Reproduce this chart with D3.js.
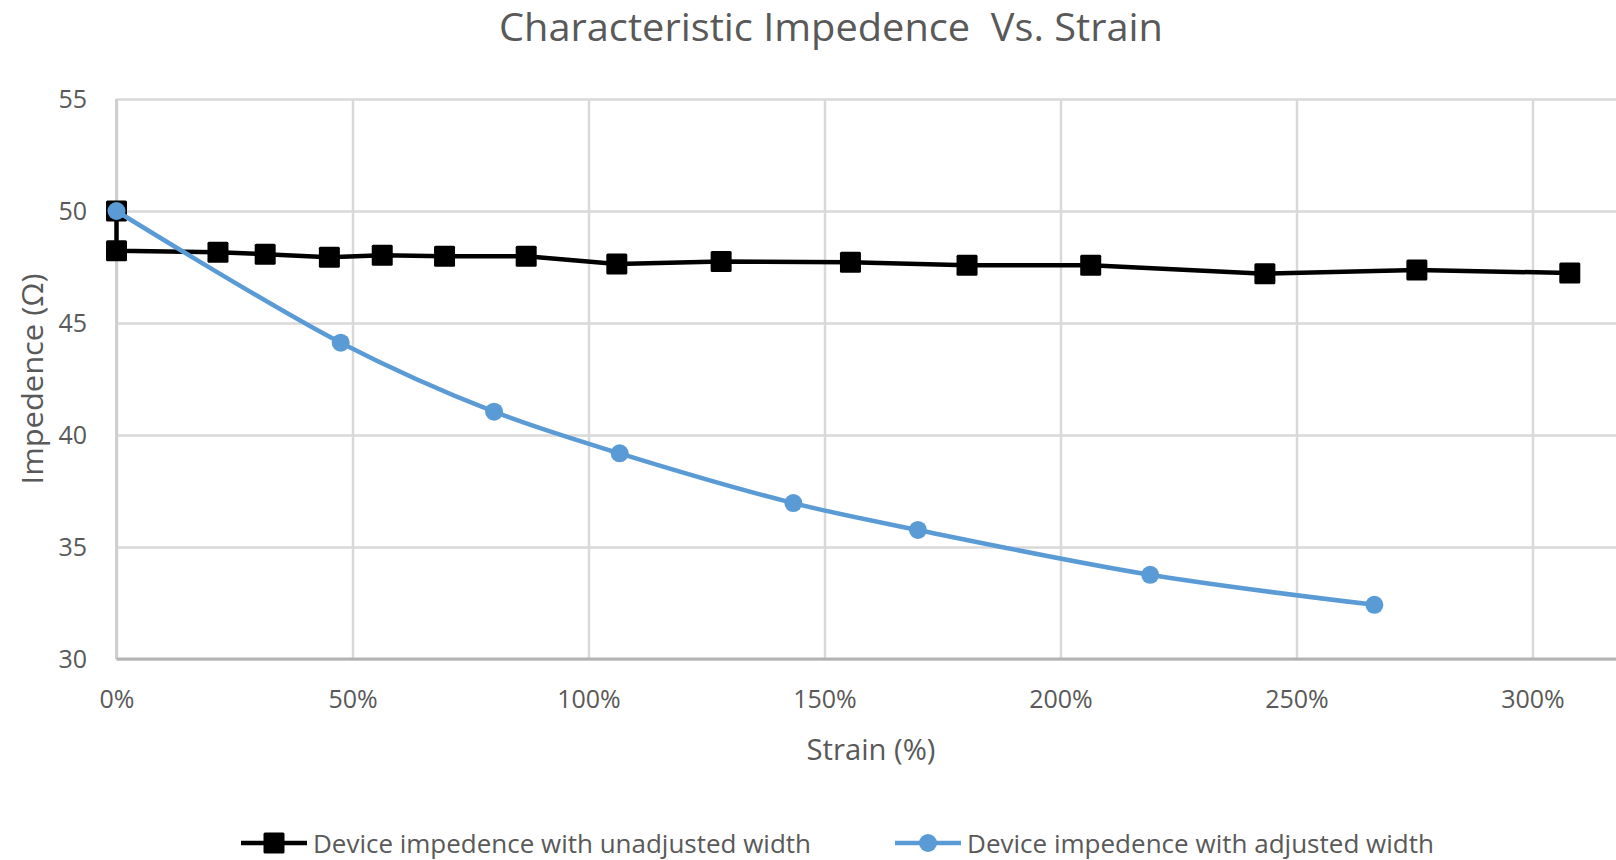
<!DOCTYPE html>
<html>

<head>
    <title>Characteristic Impedence Vs. Strain</title>
    <meta charset="UTF-8">
    <script src="https://d3js.org/d3.v7.min.js"></script>
    <style type="text/css">
        body { margin: 0; background: #fff; }
        text { font-family: "Open Sans", sans-serif; fill: #595959; }
    </style>
</head>

<body>
    <script type="text/javascript">
        // Data (strain as a fraction, impedence in ohms)
        var unadjustedStrain = [0, 0, 0.215, 0.315, 0.451, 0.563, 0.695, 0.868, 1.060, 1.281, 1.555, 1.802, 2.064, 2.433, 2.755, 3.079];
        var unadjustedImp = [50.0, 48.23, 48.16, 48.07, 47.93, 48.02, 47.98, 47.98, 47.63, 47.74, 47.71, 47.58, 47.58, 47.20, 47.37, 47.23];

        var adjustedStrain = [0, 0.475, 0.800, 1.066, 1.434, 1.698, 2.190, 2.665];
        var adjustedImp = [50.0, 44.12, 41.04, 39.18, 36.96, 35.76, 33.76, 32.42];

        var xTicks = [0, 0.5, 1, 1.5, 2, 2.5, 3];
        var yTicks = [30, 35, 40, 45, 50, 55];
        var seriesNames = ["Device impedence with unadjusted width", "Device impedence with adjusted width"];

        var W = 1616, H = 860;
        var plotLeft = 116.5, plotRight = 1616, plotTop = 99, plotBottom = 659;

        var svg = d3.select("body").append("svg")
            .attr("width", W)
            .attr("height", H);

        // Scales: the axis runs off the right edge in the reference
        var x = d3.scaleLinear().domain([0, (plotRight - plotLeft) / 472]).range([plotLeft, plotRight]);
        var y = d3.scaleLinear().domain([30, 55]).range([plotBottom, plotTop]);

        // Gridlines + tick labels
        var yAxis = d3.axisLeft(y).tickValues(yTicks).tickSize(-(plotRight - plotLeft)).tickPadding(29.5);
        var gy = svg.append("g").attr("transform", "translate(" + plotLeft + ",0)").call(yAxis);
        gy.select(".domain").remove();
        gy.selectAll("line").attr("stroke", "#d9d9d9").attr("stroke-width", 2.5);
        gy.selectAll("text").style("font-size", "25px").attr("fill", "#595959");

        var xAxis = d3.axisBottom(x).tickValues(xTicks).tickSize(-(plotBottom - plotTop)).tickPadding(31.5)
            .tickFormat(d3.format(".0%"));
        var gx = svg.append("g").attr("transform", "translate(0," + plotBottom + ")").call(xAxis);
        gx.select(".domain").remove();
        gx.selectAll("line").attr("stroke", "#d9d9d9").attr("stroke-width", 2.5);
        gx.selectAll("text").style("font-size", "25px").attr("fill", "#595959");

        // Axis lines
        svg.append("line")
            .attr("x1", x(0)).attr("x2", x(0)).attr("y1", y(55)).attr("y2", y(30))
            .attr("stroke", "#cfcfcf").attr("stroke-width", 3);
        svg.append("line")
            .attr("x1", x(0)).attr("x2", plotRight).attr("y1", y(30)).attr("y2", y(30))
            .attr("stroke", "#b3b3b3").attr("stroke-width", 3);

        // Series
        var unadjusted = unadjustedStrain.map(function (d, i) { return [d, unadjustedImp[i]]; });
        var adjusted = adjustedStrain.map(function (d, i) { return [d, adjustedImp[i]]; });

        var straight = d3.line()
            .x(function (d) { return x(d[0]); })
            .y(function (d) { return y(d[1]); });
        var smooth = d3.line()
            .x(function (d) { return x(d[0]); })
            .y(function (d) { return y(d[1]); })
            .curve(d3.curveCatmullRom.alpha(0.5));

        svg.append("path")
            .datum(unadjusted)
            .attr("fill", "none")
            .attr("stroke", "#000")
            .attr("stroke-width", 4.5)
            .attr("stroke-linejoin", "round")
            .attr("d", straight);

        var sq = 21;
        svg.selectAll(".sq")
            .data(unadjusted)
            .enter().append("rect")
            .attr("class", "sq")
            .attr("x", function (d) { return x(d[0]) - sq / 2; })
            .attr("y", function (d) { return y(d[1]) - sq / 2; })
            .attr("width", sq).attr("height", sq)
            .attr("rx", 1.5)
            .attr("fill", "#000");

        var blue = "#5b9bd5";
        svg.append("path")
            .datum(adjusted)
            .attr("fill", "none")
            .attr("stroke", blue)
            .attr("stroke-width", 4.5)
            .attr("stroke-linecap", "round")
            .attr("d", smooth);

        svg.selectAll(".dot")
            .data(adjusted)
            .enter().append("circle")
            .attr("class", "dot")
            .attr("cx", function (d) { return x(d[0]); })
            .attr("cy", function (d) { return y(d[1]); })
            .attr("r", 9)
            .attr("fill", blue);

        // Titles
        svg.append("text")
            .attr("x", 831).attr("y", 41)
            .attr("text-anchor", "middle")
            .attr("textLength", 664).attr("lengthAdjust", "spacingAndGlyphs")
            .style("font-size", "38px")
            .style("white-space", "pre")
            .text("Characteristic Impedence  Vs. Strain");

        svg.append("text")
            .attr("x", 871).attr("y", 760)
            .attr("text-anchor", "middle")
            .attr("textLength", 129).attr("lengthAdjust", "spacingAndGlyphs")
            .style("font-size", "29px")
            .text("Strain (%)");

        svg.append("text")
            .attr("transform", "translate(43," + ((plotTop + plotBottom) / 2) + ") rotate(-90)")
            .attr("text-anchor", "middle")
            .attr("textLength", 211).attr("lengthAdjust", "spacingAndGlyphs")
            .style("font-size", "29px")
            .text("Impedence (\u03A9)");

        // Legend
        var legendY = 843;
        var lg1 = svg.append("g");
        lg1.append("line").attr("x1", 241).attr("x2", 307).attr("y1", legendY).attr("y2", legendY)
            .attr("stroke", "#000").attr("stroke-width", 4.5);
        lg1.append("rect").attr("x", 274 - sq / 2).attr("y", legendY - sq / 2)
            .attr("width", sq).attr("height", sq).attr("rx", 1.5).attr("fill", "#000");
        lg1.append("text").attr("x", 313).attr("y", 853)
            .attr("textLength", 498).attr("lengthAdjust", "spacingAndGlyphs")
            .style("font-size", "26px").text(seriesNames[0]);

        var lg2 = svg.append("g");
        lg2.append("line").attr("x1", 895).attr("x2", 961).attr("y1", legendY).attr("y2", legendY)
            .attr("stroke", blue).attr("stroke-width", 4.5);
        lg2.append("circle").attr("cx", 928).attr("cy", legendY).attr("r", 9).attr("fill", blue);
        lg2.append("text").attr("x", 967).attr("y", 853)
            .attr("textLength", 467).attr("lengthAdjust", "spacingAndGlyphs")
            .style("font-size", "26px").text(seriesNames[1]);
    </script>
</body>

</html>
